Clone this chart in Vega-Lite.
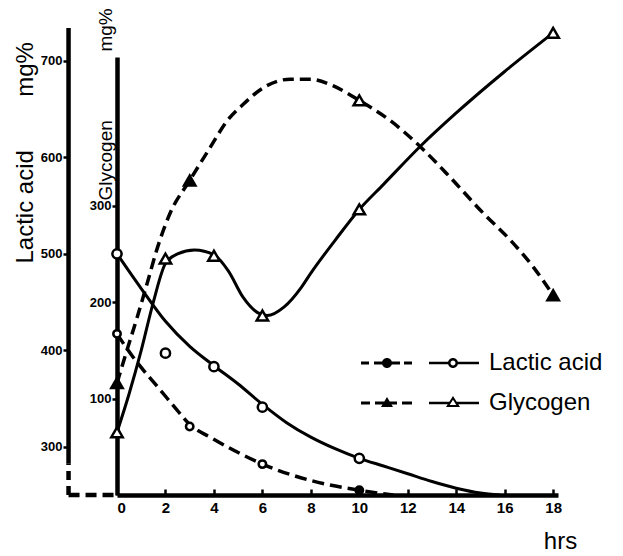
{
  "$schema": "https://vega.github.io/schema/vega-lite/v6.json",
  "autosize": "none",
  "width": 441,
  "height": 467,
  "padding": {"left": 117, "top": 28, "right": 65, "bottom": 61},
  "background": "white",
  "config": {"view": {"stroke": null}, "font": "Liberation Sans"},
  "datasets": {
    "lacCurve": [
      {"line": "B", "hr": 0, "lactic": 500}, {"line": "B", "hr": 1, "lactic": 464}, {"line": "B", "hr": 2, "lactic": 430},
      {"line": "B", "hr": 3, "lactic": 404}, {"line": "B", "hr": 4, "lactic": 384}, {"line": "B", "hr": 5, "lactic": 365},
      {"line": "B", "hr": 6, "lactic": 344}, {"line": "B", "hr": 7, "lactic": 325}, {"line": "B", "hr": 8, "lactic": 310},
      {"line": "B", "hr": 9, "lactic": 298}, {"line": "B", "hr": 10, "lactic": 288}, {"line": "B", "hr": 11, "lactic": 280},
      {"line": "B", "hr": 12, "lactic": 272}, {"line": "B", "hr": 13, "lactic": 264}, {"line": "B", "hr": 14, "lactic": 257},
      {"line": "B", "hr": 15, "lactic": 252}, {"line": "B", "hr": 15.8, "lactic": 250},
      {"line": "A", "hr": 0, "lactic": 417}, {"line": "A", "hr": 0.66, "lactic": 393}, {"line": "A", "hr": 1.07, "lactic": 380},
      {"line": "A", "hr": 1.78, "lactic": 359}, {"line": "A", "hr": 2.48, "lactic": 338}, {"line": "A", "hr": 3, "lactic": 323},
      {"line": "A", "hr": 3.84, "lactic": 310}, {"line": "A", "hr": 5, "lactic": 294}, {"line": "A", "hr": 6, "lactic": 282},
      {"line": "A", "hr": 8, "lactic": 265}, {"line": "A", "hr": 10, "lactic": 255}, {"line": "A", "hr": 11.4, "lactic": 250}
    ],
    "lacPts": [
      {"line": "B", "hr": 0, "lactic": 500, "filled": false}, {"line": "B", "hr": 2, "lactic": 397, "filled": false},
      {"line": "B", "hr": 4, "lactic": 383, "filled": false}, {"line": "B", "hr": 6, "lactic": 341, "filled": false},
      {"line": "B", "hr": 10, "lactic": 288, "filled": false},
      {"line": "A", "hr": 0, "lactic": 417, "filled": false}, {"line": "A", "hr": 3, "lactic": 321, "filled": false},
      {"line": "A", "hr": 6, "lactic": 282, "filled": false}, {"line": "A", "hr": 10, "lactic": 255, "filled": true}
    ],
    "glyCurve": [
      {"line": "B", "hr": 0, "glycogen": 65}, {"line": "B", "hr": 0.5, "glycogen": 105}, {"line": "B", "hr": 1, "glycogen": 150},
      {"line": "B", "hr": 1.5, "glycogen": 200}, {"line": "B", "hr": 2, "glycogen": 240}, {"line": "B", "hr": 2.5, "glycogen": 250},
      {"line": "B", "hr": 3.2, "glycogen": 254}, {"line": "B", "hr": 4, "glycogen": 249}, {"line": "B", "hr": 4.6, "glycogen": 232},
      {"line": "B", "hr": 5.2, "glycogen": 205}, {"line": "B", "hr": 5.8, "glycogen": 189}, {"line": "B", "hr": 6.2, "glycogen": 186},
      {"line": "B", "hr": 6.9, "glycogen": 195}, {"line": "B", "hr": 7.6, "glycogen": 215}, {"line": "B", "hr": 8, "glycogen": 230},
      {"line": "B", "hr": 9, "glycogen": 264}, {"line": "B", "hr": 10, "glycogen": 296}, {"line": "B", "hr": 11, "glycogen": 322},
      {"line": "B", "hr": 12.5, "glycogen": 361}, {"line": "B", "hr": 14, "glycogen": 396}, {"line": "B", "hr": 16, "glycogen": 439},
      {"line": "B", "hr": 18, "glycogen": 479},
      {"line": "A", "hr": 0, "glycogen": 116}, {"line": "A", "hr": 0.41, "glycogen": 150}, {"line": "A", "hr": 0.83, "glycogen": 184},
      {"line": "A", "hr": 1.24, "glycogen": 219}, {"line": "A", "hr": 1.69, "glycogen": 258}, {"line": "A", "hr": 2.19, "glycogen": 292},
      {"line": "A", "hr": 3, "glycogen": 326}, {"line": "A", "hr": 3.84, "glycogen": 360}, {"line": "A", "hr": 4.55, "glycogen": 388},
      {"line": "A", "hr": 5.21, "glycogen": 405}, {"line": "A", "hr": 6.03, "glycogen": 422}, {"line": "A", "hr": 7.15, "glycogen": 431},
      {"line": "A", "hr": 7.98, "glycogen": 431}, {"line": "A", "hr": 8.93, "glycogen": 424}, {"line": "A", "hr": 10, "glycogen": 409},
      {"line": "A", "hr": 11.28, "glycogen": 388}, {"line": "A", "hr": 12.52, "glycogen": 361}, {"line": "A", "hr": 13.76, "glycogen": 329},
      {"line": "A", "hr": 15.12, "glycogen": 292}, {"line": "A", "hr": 16.24, "glycogen": 264}, {"line": "A", "hr": 17.19, "glycogen": 236},
      {"line": "A", "hr": 18, "glycogen": 207}
    ],
    "glyPts": [
      {"line": "B", "hr": 0, "glycogen": 65, "filled": false}, {"line": "B", "hr": 2, "glycogen": 245, "filled": false},
      {"line": "B", "hr": 4, "glycogen": 248, "filled": false}, {"line": "B", "hr": 6, "glycogen": 186, "filled": false},
      {"line": "B", "hr": 10, "glycogen": 296, "filled": false}, {"line": "B", "hr": 18, "glycogen": 479, "filled": false},
      {"line": "A", "hr": 0, "glycogen": 116, "filled": true}, {"line": "A", "hr": 3, "glycogen": 326, "filled": true},
      {"line": "A", "hr": 10, "glycogen": 409, "filled": false}, {"line": "A", "hr": 18, "glycogen": 207, "filled": true}
    ]
  },
  "encoding": {
    "x": {
      "field": "hr", "type": "quantitative",
      "scale": {"domain": [0, 18.2], "nice": false, "zero": false},
      "axis": {
        "values": [0, 2, 4, 6, 8, 10, 12, 14, 16, 18], "grid": false,
        "domainColor": "black", "domainWidth": 4.5,
        "tickColor": "black", "tickSize": -6, "tickWidth": 2.5,
        "labelColor": "black", "labelFont": "Liberation Sans", "labelFontSize": 15, "labelFontWeight": "bold", "labelPadding": 11,
        "title": "hrs", "titleFont": "Liberation Sans", "titleFontSize": 24, "titleFontWeight": "normal", "titleColor": "black",
        "titleX": 443, "titleY": 46, "titleAlign": "center", "titleBaseline": "middle"
      }
    }
  },
  "layer": [
    {
      "layer": [
        {
          "data": {"name": "lacCurve"},
          "transform": [{"filter": "datum.line == 'B'"}],
          "mark": {"type": "line", "color": "black", "strokeWidth": 3, "interpolate": "monotone"},
          "encoding": {
            "y": {
              "field": "lactic", "type": "quantitative",
              "scale": {"domain": [250, 734], "nice": false, "zero": false},
              "axis": {
                "orient": "left", "offset": 48, "values": [300, 400, 500, 600, 700], "grid": false, "domain": false,
                "tickColor": "black", "tickSize": 6, "tickWidth": 2.5,
                "labelColor": "black", "labelFont": "Liberation Sans", "labelFontSize": 13, "labelFontWeight": "bold", "labelPadding": 1,
                "title": "Lactic acid\u00a0\u00a0\u00a0\u00a0\u00a0\u00a0\u00a0\u00a0mg%",
                "titleFont": "Liberation Sans", "titleFontSize": 24, "titleFontWeight": "normal", "titleColor": "black",
                "titleAngle": -90, "titleX": -44, "titleY": 235, "titleAlign": "left", "titleBaseline": "middle"
              }
            }
          }
        },
        {
          "data": {"name": "lacCurve"},
          "transform": [{"filter": "datum.line == 'A'"}],
          "mark": {"type": "line", "color": "black", "strokeWidth": 3.5, "strokeDash": [12, 6], "interpolate": "monotone"},
          "encoding": {"y": {"field": "lactic", "type": "quantitative"}}
        },
        {
          "data": {"name": "lacPts"},
          "transform": [{"filter": "datum.line == 'B'"}],
          "mark": {"type": "point", "shape": "circle", "size": 85, "stroke": "black", "strokeWidth": 2.5, "opacity": 1},
          "encoding": {
            "y": {"field": "lactic", "type": "quantitative"},
            "fill": {"condition": {"test": "datum.filled", "value": "black"}, "value": "white"}
          }
        },
        {
          "data": {"name": "lacPts"},
          "transform": [{"filter": "datum.line == 'A'"}],
          "mark": {"type": "point", "shape": "circle", "size": 55, "stroke": "black", "strokeWidth": 2.5, "opacity": 1},
          "encoding": {
            "y": {"field": "lactic", "type": "quantitative"},
            "fill": {"condition": {"test": "datum.filled", "value": "black"}, "value": "white"}
          }
        },
        {
          "data": {"values": [{"hr": -2, "lactic": 283, "lactic2": 734}]},
          "mark": {"type": "rule", "color": "black", "strokeWidth": 4.5},
          "encoding": {"y": {"field": "lactic", "type": "quantitative"}, "y2": {"field": "lactic2"}}
        },
        {
          "data": {"values": [{"hr": -2, "lactic": 250, "lactic2": 283}]},
          "mark": {"type": "rule", "color": "black", "strokeWidth": 4.5, "strokeDash": [9, 6]},
          "encoding": {"y": {"field": "lactic", "type": "quantitative"}, "y2": {"field": "lactic2"}}
        },
        {
          "data": {"values": [{"hr": -2, "hr2": 0, "lactic": 250}]},
          "mark": {"type": "rule", "color": "black", "strokeWidth": 4.5, "strokeDash": [11, 6]},
          "encoding": {"x2": {"field": "hr2"}, "y": {"field": "lactic", "type": "quantitative"}}
        },
        {
          "data": {"values": [{"series": "Lactic acid"}, {"series": "Glycogen"}]},
          "mark": {"type": "point", "filled": true, "color": "black"},
          "encoding": {
            "y": {"field": "lactic", "type": "quantitative"},
            "shape": {
              "field": "series", "type": "nominal",
              "scale": {
                "domain": ["Lactic acid", "Glycogen"],
                "range": [
                  "M-118,-1.5h8v3h-8Z M-105,-1.5h9v3h-9Z M-88,-1.5h9v3h-9Z M-75,-1.5h8v3h-8Z M-97,0a5,5 0 1,1 10,0a5,5 0 1,1 -10,0Z M-50,-1.25h19.5v2.5h-19.5Z M-21.5,-1.25h21.5v2.5h-21.5Z M-31,0a5,5 0 1,1 10,0a5,5 0 1,1 -10,0Z M-28.5,0a2.5,2.5 0 1,0 5,0a2.5,2.5 0 1,0 -5,0Z",
                  "M-118,-1.5h9v3h-9Z M-104,-1.5h22v3h-22Z M-77,-1.5h10v3h-10Z M-98,4L-92,-6L-86,4Z M-50,-1.25h20.8v2.5h-20.8Z M-22.8,-1.25h22.8v2.5h-22.8Z M-33,4L-26,-7L-19,4Z M-29.3,2L-22.7,2L-26,-3.2Z"
                ]
              },
              "legend": {
                "orient": "none", "legendX": 350, "legendY": 323, "title": null, "padding": 0,
                "symbolSize": 4, "symbolFillColor": "black", "symbolStrokeColor": "black", "symbolStrokeWidth": 0, "symbolOpacity": 1,
                "labelFont": "Liberation Sans", "labelFontSize": 24, "labelColor": "black", "labelOffset": -2,
                "rowPadding": 16, "labelLimit": 300
              }
            }
          }
        }
      ]
    },
    {
      "layer": [
        {
          "data": {"name": "glyCurve"},
          "transform": [{"filter": "datum.line == 'B'"}],
          "mark": {"type": "line", "color": "black", "strokeWidth": 3, "interpolate": "monotone"},
          "encoding": {
            "y": {
              "field": "glycogen", "type": "quantitative",
              "scale": {"domain": [0, 454], "range": [467, 29], "nice": false, "zero": false},
              "axis": {
                "orient": "left", "offset": 0, "values": [100, 200, 300], "grid": false,
                "domain": true, "domainColor": "black", "domainWidth": 4.5,
                "tickColor": "black", "tickSize": 5, "tickWidth": 2.5,
                "labelColor": "black", "labelFont": "Liberation Sans", "labelFontSize": 13, "labelFontWeight": "bold", "labelPadding": 1,
                "title": "Glycogen\u00a0\u00a0\u00a0\u00a0\u00a0\u00a0\u00a0\u00a0\u00a0\u00a0\u00a0\u00a0\u00a0mg%",
                "titleFont": "Liberation Sans", "titleFontSize": 19, "titleFontWeight": "normal", "titleColor": "black",
                "titleAngle": -90, "titleX": -12, "titleY": 172, "titleAlign": "left", "titleBaseline": "middle"
              }
            }
          }
        },
        {
          "data": {"name": "glyCurve"},
          "transform": [{"filter": "datum.line == 'A'"}],
          "mark": {"type": "line", "color": "black", "strokeWidth": 3.5, "strokeDash": [11, 6], "interpolate": "monotone"},
          "encoding": {"y": {"field": "glycogen", "type": "quantitative"}}
        },
        {
          "data": {"name": "glyPts"},
          "mark": {"type": "point", "shape": "triangle-up", "size": 130, "stroke": "black", "strokeWidth": 2.5, "opacity": 1},
          "encoding": {
            "y": {"field": "glycogen", "type": "quantitative"},
            "fill": {"condition": {"test": "datum.filled", "value": "black"}, "value": "white"}
          }
        }
      ]
    }
  ],
  "resolve": {"scale": {"y": "independent"}, "axis": {"y": "independent"}}
}
